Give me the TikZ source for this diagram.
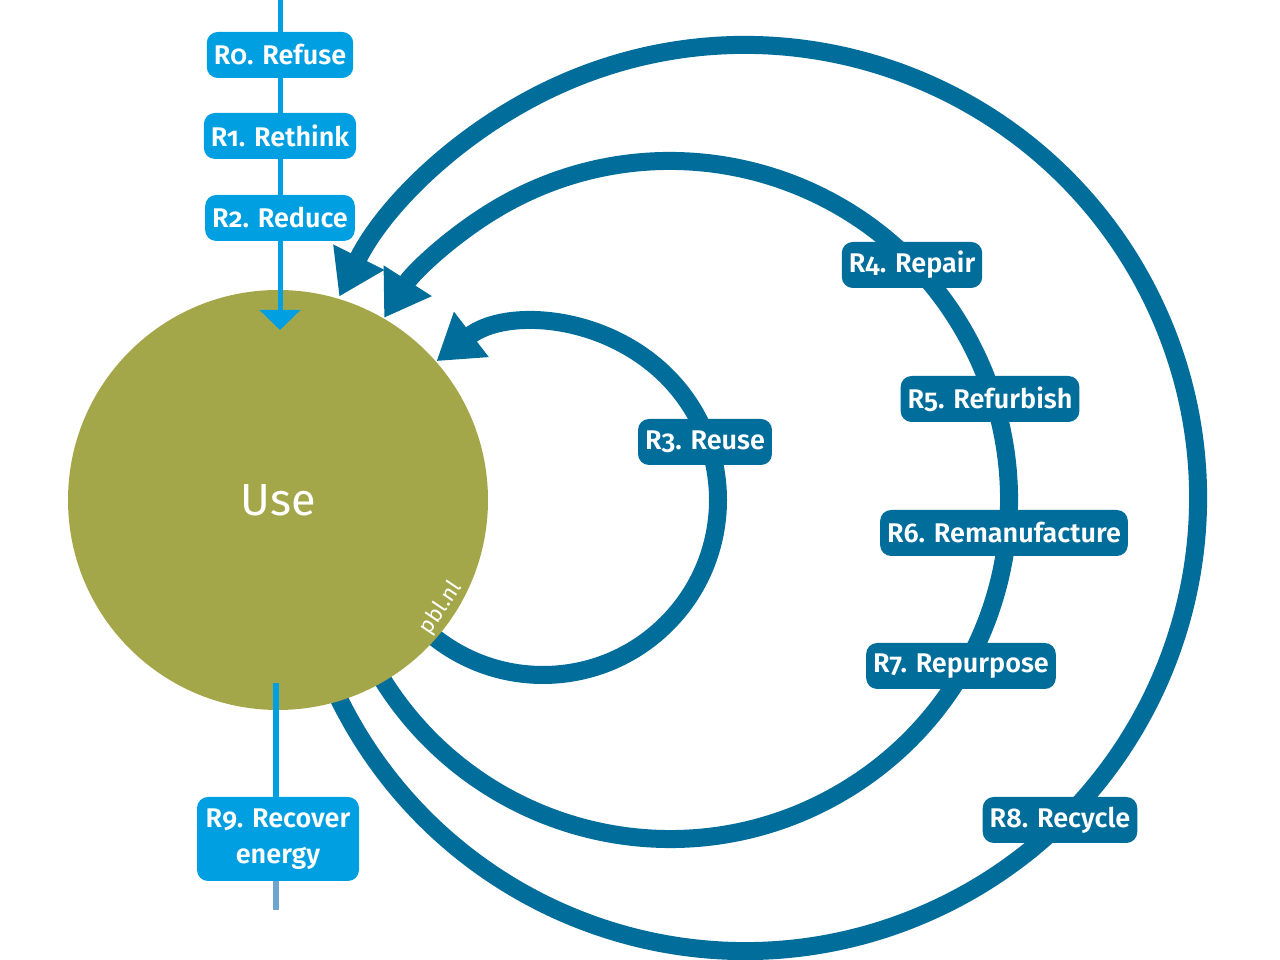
\documentclass[tikz,border=0pt]{standalone}
\usepackage{fontspec}
\setmainfont{Fira Sans}[Numbers=OldStyle, BoldFont={* SemiBold}]
\usetikzlibrary{arrows.meta}
\definecolor{dblue}{RGB}{0,109,155}
\definecolor{lblue}{RGB}{0,159,225}
\definecolor{fblue}{RGB}{110,165,205}
\definecolor{olive}{RGB}{164,166,74}
\begin{document}
\begin{tikzpicture}[x=1pt,y=1pt,
  loopline/.style={draw=dblue, line width=18pt, -{Triangle[length=44pt,width=54pt]}},
  dbox/.style={fill=dblue, text=white, rounded corners=11pt, minimum height=46pt,
    inner xsep=7pt, inner ysep=0pt, font=\fontsize{27}{30}\selectfont\bfseries},
  lbox/.style={dbox, fill=lblue},
]
\useasboundingbox (0,0) rectangle (1280,960);
% loop centres
\coordinate (c3) at (543,460);
\coordinate (c4) at (670,460);
\coordinate (c8) at (745,462);
% loops
\draw[loopline] ([shift={(205:453)}]c8) arc[start angle=205, end angle=513.6, radius=453];
\draw[loopline] ([shift={(210:339)}]c4) arc[start angle=210, end angle=507.5, radius=339];
\draw[loopline] ([shift={(225:175)}]c3) arc[start angle=225, end angle=487.5, radius=175];
% use circle
\node[circle, fill=olive, minimum size=420pt, inner sep=0pt, text=white,
  font=\fontsize{45}{45}\selectfont] (use) at (278,460) {Use};
\node[text=white, rotate=56, font=\fontsize{22}{22}\selectfont] (pbl) at (441,352) {pbl.nl};
% top flow
\coordinate (topin) at (280,960);
\coordinate (usein) at (280,630);
\draw[lblue, line width=5pt, -{Triangle[length=20pt,width=40pt]}] (topin) -- (usein);
\node[lbox] (r0) at (280,905) {R0. Refuse};
\node[lbox] (r1) at (280,824) {R1. Rethink};
\node[lbox] (r2) at (280,742) {R2. Reduce};
% bottom flow
\node[lbox, align=center, minimum width=162pt, minimum height=84pt,
  font=\fontsize{27}{36}\selectfont\bfseries] (r9) at (278,121) {R9. Recover\\energy};
\coordinate (useout) at (276,277);
\coordinate (r9end) at (276,50);
\draw[lblue, line width=6pt] (useout) -- (useout |- r9.north);
\draw[fblue, line width=6pt] (r9end |- r9.south) -- (r9end);
% loop labels
\node[dbox] (r3) at (705,518) {R3. Reuse};
\node[dbox] (r4) at (912,695) {R4. Repair};
\node[dbox] (r5) at (990,561) {R5. Refurbish};
\node[dbox] (r6) at (1004,427) {R6. Remanufacture};
\node[dbox] (r7) at (961,294) {R7. Repurpose};
\node[dbox] (r8) at (1060,140) {R8. Recycle};
\end{tikzpicture}
\end{document}
